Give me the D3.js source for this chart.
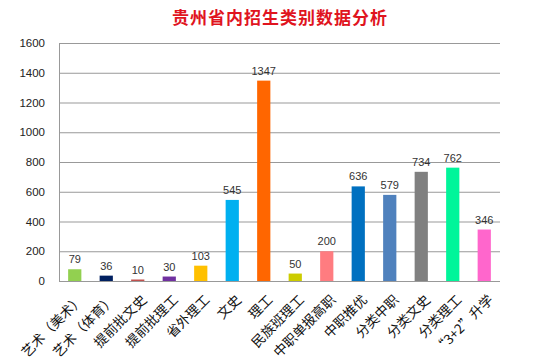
<!DOCTYPE html>
<html><head><meta charset="utf-8">
<script src="https://cdn.jsdelivr.net/npm/d3@7"></script>
<style>body{margin:0;background:#fff}svg{display:block}</style>
</head><body>
<svg id="c" width="554" height="364"></svg>
<script>
const categories = ["艺术（美术）","艺术（体育）","提前批文史","提前批理工","省外理工","文史","理工","民族班理工","中职单报高职","中职推优","分类中职","分类文史","分类理工","“3+2”升学"];
const values = [79,36,10,30,103,545,1347,50,200,636,579,734,762,346];
const colors = ["#92D050","#002060","#C0504D","#7030A0","#FFC000","#00B0F0","#FF6600","#CCCC00","#FF7C80","#0070C0","#4F81BD","#808080","#00F59A","#FF66CC"];
const yTicks = [0,200,400,600,800,1000,1200,1400,1600];
const title = "贵州省内招生类别数据分析";

const svg = d3.select("#c");
const m = {l:59, r:500, t:43, b:281};
const x = d3.scaleBand().domain(categories).range([m.l, m.r]).paddingInner(0.58).paddingOuter(0.29);
const y = d3.scaleLinear().domain([0,1600]).range([m.b, m.t]);

svg.append("text").attr("x",280).attr("y",24).attr("text-anchor","middle")
  .attr("fill","#E0141E").attr("font-size","17px").attr("font-weight","bold")
  .attr("font-family","'Noto Sans CJK SC'").attr("letter-spacing","1px").text(title);

const yAxis = d3.axisLeft(y).tickValues(yTicks).tickFormat(d3.format("d")).tickSize(-(m.r-m.l)).tickPadding(14);
const ga = svg.append("g").attr("transform",`translate(${m.l},0)`).call(yAxis);
ga.select(".domain").attr("stroke","#999");
ga.selectAll(".tick line").attr("stroke","#999");
ga.selectAll(".tick text").attr("font-family","'Liberation Sans', Arial").attr("font-size","11.5px").attr("fill","#222");
svg.append("line").attr("x1",m.l).attr("x2",m.r).attr("y1",m.b+0.5).attr("y2",m.b+0.5).attr("stroke","#999");

svg.selectAll("rect.bar").data(values).join("rect").attr("class","bar")
  .attr("x",(d,i)=>x(categories[i])).attr("width",x.bandwidth())
  .attr("y",d=>y(d)).attr("height",d=>y(0)-y(d)).attr("fill",(d,i)=>colors[i]);

svg.selectAll("text.val").data(values).join("text").attr("class","val")
  .attr("x",(d,i)=>x(categories[i])+x.bandwidth()/2).attr("y",d=>y(d)-6)
  .attr("text-anchor","middle").attr("font-family","'Liberation Sans', Arial").attr("font-size","11px").attr("fill","#333")
  .text(d=>d);

svg.selectAll("text.cat").data(categories).join("text").attr("class","cat")
  .attr("transform",(d)=>`translate(${x(d)+x.bandwidth()/2+3},${m.b+13}) rotate(-45)`)
  .attr("text-anchor","end").attr("dy","0.7em").attr("font-family","'Noto Sans CJK SC'").attr("font-size","13.5px").attr("fill","#111")
  .text(d=>d);
</script>
</body></html>
